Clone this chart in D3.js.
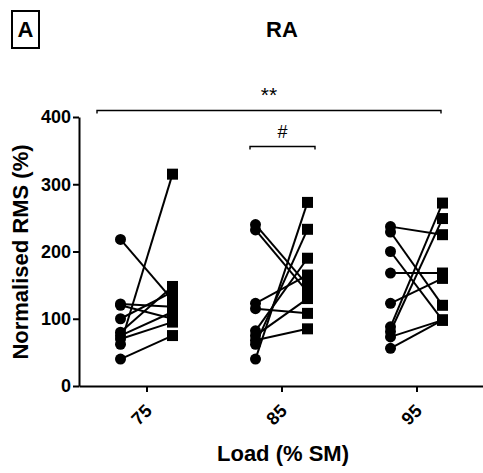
<!DOCTYPE html>
<html><head><meta charset="utf-8">
<script src="https://cdn.jsdelivr.net/npm/d3@7"></script>
<style>body{margin:0;background:#fff;} text{font-family:Arial,"Liberation Sans",Helvetica,sans-serif;font-weight:bold;}</style>
</head><body><svg id="c" width="483" height="473"></svg>
<script>
const loads = [75, 85, 95];
const yTicks = [0, 100, 200, 300, 400];
// paired values per subject: pre (circles) and post (squares)
const pre75  = [218, 122, 120, 100, 80, 75, 70, 62, 40];
const post75 = [128, 118, 100, 140, 148, 110, 95, 315, 75];
const pre85  = [240, 232, 123, 115, 82, 75, 68, 62, 40];
const post85 = [150, 140, 165, 108, 190, 130, 85, 233, 273];
const pre95  = [237, 229, 200, 168, 123, 88, 81, 73, 56];
const post95 = [225, 120, 98, 168, 160, 272, 249, 98, 98];
const preVals = [pre75, pre85, pre95];
const postVals = [post75, post85, post95];

const svg = d3.select("#c");
const x = d3.scaleLinear().domain([70, 100]).range([79, 484]);
const y = d3.scaleLinear().domain([0, 400]).range([386, 117]);
const off = 26;

// axes
const yAxis = svg.append("g").attr("transform","translate(79,0)")
  .call(d3.axisLeft(y).tickValues(yTicks).tickSize(6).tickSizeOuter(0));
yAxis.select(".domain").attr("stroke","#000").attr("stroke-width",2);
yAxis.selectAll(".tick line").attr("stroke-width",2);
yAxis.selectAll("text").attr("font-size",18).attr("x",-8).attr("fill","#000");

const xAxis = svg.append("g").attr("transform","translate(0,386)")
  .call(d3.axisBottom(x).tickValues(loads).tickSize(6).tickSizeOuter(0));
xAxis.select(".domain").attr("stroke","#000").attr("stroke-width",2);
xAxis.selectAll(".tick line").attr("stroke-width",2);
xAxis.selectAll("text").attr("font-size",18).attr("fill","#000")
  .attr("text-anchor","end").attr("x",0).attr("y",0).attr("dy",0)
  .attr("transform","translate(6,26) rotate(-45)");

// data lines & markers
loads.forEach((L, i) => {
  const g = svg.append("g");
  preVals[i].forEach((v, j) => {
    g.append("line").attr("x1", x(L)-off).attr("y1", y(v))
      .attr("x2", x(L)+off).attr("y2", y(postVals[i][j]))
      .attr("stroke","#000").attr("stroke-width",2);
  });
  preVals[i].forEach(v => g.append("circle").attr("cx", x(L)-off).attr("cy", y(v)).attr("r",5.5).attr("fill","#000"));
  postVals[i].forEach(v => g.append("rect").attr("x", x(L)+off-5.5).attr("y", y(v)-5.5).attr("width",11).attr("height",11).attr("fill","#000"));
});

// significance brackets
function bracket(x1, x2, yy, label, ty, fs){
  svg.append("path").attr("d",`M${x1},${yy+3}V${yy}H${x2}V${yy+3}`)
    .attr("fill","none").attr("stroke","#000").attr("stroke-width",1.4);
  svg.append("text").attr("x",(x1+x2)/2).attr("y",ty).attr("text-anchor","middle")
    .attr("font-size",fs).style("font-weight","normal").text(label);
}
bracket(97, 441, 110.5, "**", 102, 21);
bracket(250, 315, 146.5, "#", 138, 18);

// titles
svg.append("text").attr("x",282).attr("y",37).attr("text-anchor","middle").attr("font-size",22).text("RA");
svg.append("rect").attr("x",12).attr("y",11).attr("width",27).attr("height",37).attr("fill","none").attr("stroke","#000").attr("stroke-width",2);
svg.append("text").attr("x",25.5).attr("y",37).attr("text-anchor","middle").attr("font-size",22).text("A");
svg.append("text").attr("transform","translate(28,252) rotate(-90)").attr("text-anchor","middle").attr("font-size",22).text("Normalised RMS (%)");
svg.append("text").attr("x",283).attr("y",461).attr("text-anchor","middle").attr("font-size",22).text("Load (% SM)");
</script></body></html>
